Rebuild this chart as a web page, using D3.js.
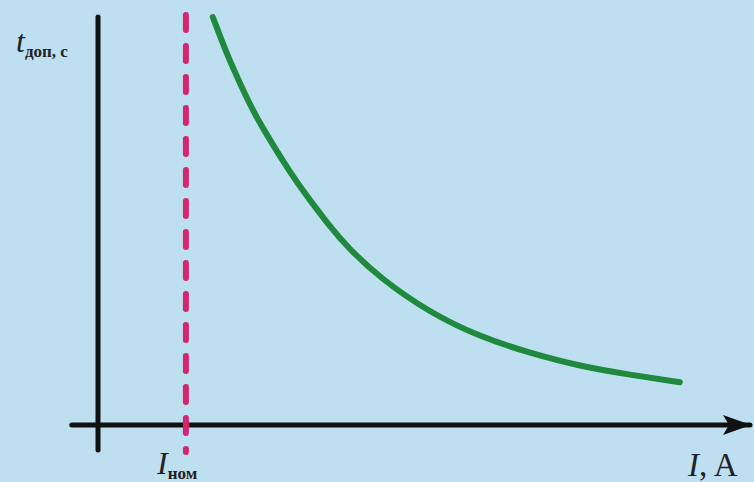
<!DOCTYPE html>
<html>
<head>
<meta charset="utf-8">
<script src="https://cdn.jsdelivr.net/npm/d3@7"></script>
<style>
  html, body { margin: 0; padding: 0; background: #bedff0; }
  svg { display: block; }
  text { font-family: "Liberation Serif", "DejaVu Serif", serif; fill: #222; }
</style>
</head>
<body>
<div id="chart"></div>
<script>
// chart size = window size
const width = 754;
const height = 482;

// current I (A) and allowed time t (s) (arbitrary units)
const currentI = [1.75, 1.94, 2.12, 2.32, 2.50, 2.93, 3.23, 3.51, 3.80, 4.30, 5.06, 5.82, 6.59, 7.35, 8.11, 8.87];
const timeT    = [10.0, 9.19, 8.53, 7.84, 7.30, 6.18, 5.51, 4.92, 4.36, 3.60, 2.75, 2.16, 1.76, 1.44, 1.23, 1.05];
const nominalI = 1.34;

// axis extents in data units
const xAxisRange = [-0.40, 10];
const yAxisRange = [-0.61, 10];

const data = currentI.map((d, i) => ({ I: d, t: timeT[i] }));

const svg = d3.select("#chart")
    .append("svg")
    .attr("width", width)
    .attr("height", height);

svg.append("rect")
    .attr("width", width)
    .attr("height", height)
    .attr("fill", "#bedff0");

// scales: origin sits at (98, 425)
const x = d3.scaleLinear().domain([0, 10]).range([98, 754]);
const y = d3.scaleLinear().domain([0, 10]).range([425, 17]);

// arrow marker for the I axis
svg.append("defs").append("marker")
    .attr("id", "arrow")
    .attr("viewBox", "0 0 28 20")
    .attr("refX", 27)
    .attr("refY", 10)
    .attr("markerWidth", 28)
    .attr("markerHeight", 20)
    .attr("markerUnits", "userSpaceOnUse")
    .attr("orient", "auto")
    .append("path")
    .attr("d", "M0,0 L28,10 L0,20 L6,10 Z")
    .attr("fill", "#111");

// vertical axis (t)
svg.append("line")
    .attr("x1", x(0)).attr("x2", x(0))
    .attr("y1", y(yAxisRange[1])).attr("y2", y(yAxisRange[0]))
    .attr("stroke", "#111")
    .attr("stroke-width", 5)
    .attr("stroke-linecap", "round");

// horizontal axis (I)
svg.append("line")
    .attr("x1", x(xAxisRange[0])).attr("x2", x(xAxisRange[1]) - 4)
    .attr("y1", y(0)).attr("y2", y(0))
    .attr("stroke", "#111")
    .attr("stroke-width", 5)
    .attr("stroke-linecap", "round")
    .attr("marker-end", "url(#arrow)");

// nominal current, dashed
svg.append("line")
    .attr("x1", x(nominalI)).attr("x2", x(nominalI))
    .attr("y1", 15).attr("y2", 452)
    .attr("stroke", "#d4266f")
    .attr("stroke-width", 6)
    .attr("stroke-dasharray", "15 16")
    .attr("stroke-linecap", "round");

// the curve, smoothed
const line = d3.line()
    .x(d => x(d.I))
    .y(d => y(d.t))
    .curve(d3.curveBasis);

svg.append("path")
    .datum(data)
    .attr("d", line)
    .attr("fill", "none")
    .attr("stroke", "#1f8a3e")
    .attr("stroke-width", 6)
    .attr("stroke-linecap", "round");

// labels
const tLabel = svg.append("text")
    .attr("x", 16)
    .attr("y", 52);
tLabel.append("tspan")
    .attr("font-style", "italic")
    .attr("font-size", 32)
    .text("t");
tLabel.append("tspan")
    .attr("font-size", 17)
    .attr("font-weight", "bold")
    .attr("dy", 5)
    .text("доп, с");

const nomLabel = svg.append("text")
    .attr("x", 157)
    .attr("y", 474);
nomLabel.append("tspan")
    .attr("font-style", "italic")
    .attr("font-size", 32)
    .text("I");
nomLabel.append("tspan")
    .attr("font-size", 17)
    .attr("font-weight", "bold")
    .attr("dy", 5)
    .text("ном");

const iLabel = svg.append("text")
    .attr("x", 688)
    .attr("y", 476)
    .attr("font-size", 33);
iLabel.append("tspan")
    .attr("font-style", "italic")
    .text("I");
iLabel.append("tspan")
    .text(", A");
</script>
</body>
</html>
